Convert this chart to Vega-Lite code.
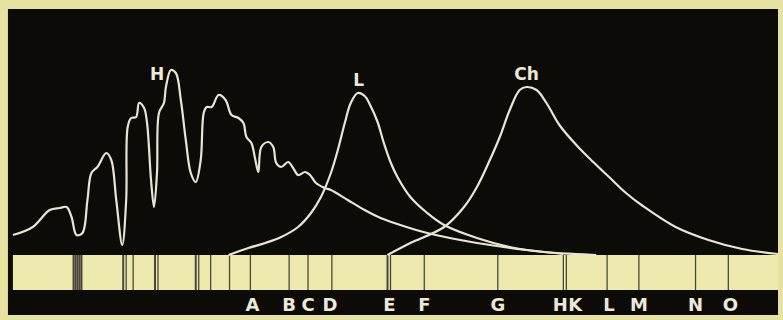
{
  "$schema": "https://vega.github.io/schema/vega-lite/v6.json",
  "width": 783,
  "height": 320,
  "autosize": {"type": "fit", "contains": "padding"},
  "padding": 0,
  "background": "#e6e2a2",
  "config": {"view": {"stroke": null}},
  "datasets": {
    "parts": [
      {"part": "panel", "x0": 8, "x1": 783, "y0": 5, "y1": 311},
      {"part": "strip", "x0": 13, "x1": 783, "y0": 30, "y1": 65}
    ],
    "lines": [
      {"x": 74, "kind": "band"}, {"x": 76, "kind": "band"}, {"x": 78, "kind": "band"}, {"x": 80, "kind": "band"}, {"x": 82, "kind": "band"},
      {"x": 124, "kind": "band"}, {"x": 127, "kind": "line"}, {"x": 134, "kind": "line"},
      {"x": 156, "kind": "band"}, {"x": 159, "kind": "line"},
      {"x": 197, "kind": "band"}, {"x": 200, "kind": "line"}, {"x": 212, "kind": "line"},
      {"x": 231, "kind": "line"}, {"x": 252, "kind": "line"}, {"x": 291, "kind": "line"},
      {"x": 310, "kind": "line"}, {"x": 334, "kind": "line"}, {"x": 390, "kind": "band"},
      {"x": 393, "kind": "line"}, {"x": 427, "kind": "line"}, {"x": 501, "kind": "line"},
      {"x": 567, "kind": "line"}, {"x": 570, "kind": "line"}, {"x": 611, "kind": "line"},
      {"x": 643, "kind": "line"}, {"x": 700, "kind": "line"}, {"x": 733, "kind": "line"}
    ],
    "letters": [
      {"label": "A", "x": 254}, {"label": "B", "x": 291}, {"label": "C", "x": 310},
      {"label": "D", "x": 332}, {"label": "E", "x": 392}, {"label": "F", "x": 427},
      {"label": "G", "x": 501}, {"label": "H", "x": 564}, {"label": "K", "x": 579},
      {"label": "L", "x": 613}, {"label": "M", "x": 643}, {"label": "N", "x": 700},
      {"label": "O", "x": 735}
    ],
    "curveLabels": [
      {"label": "H", "x": 158, "y": 245},
      {"label": "L", "x": 361, "y": 239},
      {"label": "Ch", "x": 530, "y": 245}
    ],
    "curves": [
      {"curve": "H", "x": 13, "y": 85}, {"curve": "H", "x": 33, "y": 93}, {"curve": "H", "x": 50, "y": 110},
      {"curve": "H", "x": 60, "y": 112}, {"curve": "H", "x": 67, "y": 113}, {"curve": "H", "x": 72, "y": 103},
      {"curve": "H", "x": 77, "y": 85}, {"curve": "H", "x": 83, "y": 87}, {"curve": "H", "x": 88, "y": 120},
      {"curve": "H", "x": 92, "y": 147}, {"curve": "H", "x": 98, "y": 153}, {"curve": "H", "x": 107, "y": 167},
      {"curve": "H", "x": 112, "y": 160}, {"curve": "H", "x": 117, "y": 120}, {"curve": "H", "x": 123, "y": 75},
      {"curve": "H", "x": 127, "y": 120}, {"curve": "H", "x": 128.5, "y": 193}, {"curve": "H", "x": 132, "y": 202},
      {"curve": "H", "x": 137, "y": 203}, {"curve": "H", "x": 140, "y": 217}, {"curve": "H", "x": 145, "y": 212},
      {"curve": "H", "x": 148, "y": 197}, {"curve": "H", "x": 152, "y": 140}, {"curve": "H", "x": 155, "y": 113},
      {"curve": "H", "x": 158, "y": 147}, {"curve": "H", "x": 160, "y": 207}, {"curve": "H", "x": 165, "y": 217},
      {"curve": "H", "x": 167, "y": 233}, {"curve": "H", "x": 172, "y": 250}, {"curve": "H", "x": 177, "y": 247},
      {"curve": "H", "x": 182, "y": 220}, {"curve": "H", "x": 187, "y": 180}, {"curve": "H", "x": 192, "y": 147},
      {"curve": "H", "x": 197, "y": 138}, {"curve": "H", "x": 202, "y": 160}, {"curve": "H", "x": 205, "y": 207},
      {"curve": "H", "x": 208, "y": 213}, {"curve": "H", "x": 213, "y": 213}, {"curve": "H", "x": 220, "y": 225},
      {"curve": "H", "x": 227, "y": 220}, {"curve": "H", "x": 233, "y": 205}, {"curve": "H", "x": 240, "y": 202},
      {"curve": "H", "x": 245, "y": 197}, {"curve": "H", "x": 248, "y": 183}, {"curve": "H", "x": 253, "y": 177},
      {"curve": "H", "x": 257, "y": 160}, {"curve": "H", "x": 260, "y": 148}, {"curve": "H", "x": 263, "y": 173},
      {"curve": "H", "x": 270, "y": 178}, {"curve": "H", "x": 275, "y": 173}, {"curve": "H", "x": 278, "y": 157},
      {"curve": "H", "x": 283, "y": 153}, {"curve": "H", "x": 290, "y": 158}, {"curve": "H", "x": 295, "y": 152},
      {"curve": "H", "x": 300, "y": 145}, {"curve": "H", "x": 307, "y": 148}, {"curve": "H", "x": 312, "y": 145},
      {"curve": "H", "x": 318, "y": 137}, {"curve": "H", "x": 327, "y": 132}, {"curve": "H", "x": 333, "y": 130},
      {"curve": "H", "x": 350, "y": 120}, {"curve": "H", "x": 367, "y": 110}, {"curve": "H", "x": 383, "y": 102},
      {"curve": "H", "x": 400, "y": 96}, {"curve": "H", "x": 430, "y": 87}, {"curve": "H", "x": 480, "y": 77},
      {"curve": "H", "x": 530, "y": 70}, {"curve": "H", "x": 567, "y": 66},
      {"curve": "L", "x": 230, "y": 65}, {"curve": "L", "x": 250, "y": 72}, {"curve": "L", "x": 267, "y": 77},
      {"curve": "L", "x": 283, "y": 83}, {"curve": "L", "x": 300, "y": 93}, {"curve": "L", "x": 313, "y": 107},
      {"curve": "L", "x": 323, "y": 123}, {"curve": "L", "x": 333, "y": 147}, {"curve": "L", "x": 340, "y": 170},
      {"curve": "L", "x": 347, "y": 197}, {"curve": "L", "x": 353, "y": 217}, {"curve": "L", "x": 360, "y": 227},
      {"curve": "L", "x": 367, "y": 224}, {"curve": "L", "x": 373, "y": 214}, {"curve": "L", "x": 380, "y": 198},
      {"curve": "L", "x": 386, "y": 178}, {"curve": "L", "x": 393, "y": 158}, {"curve": "L", "x": 400, "y": 143},
      {"curve": "L", "x": 413, "y": 123}, {"curve": "L", "x": 430, "y": 107}, {"curve": "L", "x": 447, "y": 95},
      {"curve": "L", "x": 480, "y": 82}, {"curve": "L", "x": 513, "y": 73}, {"curve": "L", "x": 547, "y": 68},
      {"curve": "L", "x": 580, "y": 66}, {"curve": "L", "x": 600, "y": 65},
      {"curve": "Ch", "x": 390, "y": 65}, {"curve": "Ch", "x": 413, "y": 77}, {"curve": "Ch", "x": 447, "y": 93},
      {"curve": "Ch", "x": 467, "y": 113}, {"curve": "Ch", "x": 480, "y": 133}, {"curve": "Ch", "x": 493, "y": 160},
      {"curve": "Ch", "x": 503, "y": 183}, {"curve": "Ch", "x": 513, "y": 210}, {"curve": "Ch", "x": 523, "y": 230},
      {"curve": "Ch", "x": 530, "y": 233}, {"curve": "Ch", "x": 540, "y": 230}, {"curve": "Ch", "x": 550, "y": 217},
      {"curve": "Ch", "x": 563, "y": 195}, {"curve": "Ch", "x": 580, "y": 175}, {"curve": "Ch", "x": 597, "y": 158},
      {"curve": "Ch", "x": 613, "y": 143}, {"curve": "Ch", "x": 630, "y": 127}, {"curve": "Ch", "x": 647, "y": 114},
      {"curve": "Ch", "x": 680, "y": 93},
      {"curve": "Ch", "x": 713, "y": 80}, {"curve": "Ch", "x": 747, "y": 71}, {"curve": "Ch", "x": 783, "y": 66}
    ]
  },
  "layer": [
    {
      "data": {"name": "parts"},
      "mark": {"type": "rect"},
      "encoding": {
        "x": {"field": "x0", "type": "quantitative", "scale": {"domain": [0, 783], "nice": false, "zero": false}, "axis": null},
        "x2": {"field": "x1"},
        "y": {"field": "y0", "type": "quantitative", "scale": {"domain": [0, 320], "nice": false, "zero": false}, "axis": null},
        "y2": {"field": "y1"},
        "color": {"field": "part", "type": "nominal", "scale": {"domain": ["panel", "strip"], "range": ["#0c0b07", "#eeeaae"]}, "legend": null}
      }
    },
    {
      "data": {"name": "lines"},
      "mark": {"type": "rule", "color": "#4a473f"},
      "encoding": {
        "x": {"field": "x", "type": "quantitative"},
        "y": {"datum": 30},
        "y2": {"datum": 65},
        "strokeWidth": {"field": "kind", "type": "nominal", "scale": {"domain": ["band", "line"], "range": [2, 1.3]}, "legend": null}
      }
    },
    {
      "data": {"name": "curves"},
      "mark": {"type": "line", "interpolate": "catmull-rom", "color": "#e8e5d4", "strokeWidth": 2.2},
      "encoding": {
        "x": {"field": "x", "type": "quantitative"},
        "y": {"field": "y", "type": "quantitative"},
        "detail": {"field": "curve", "type": "nominal"}
      }
    },
    {
      "data": {"name": "letters"},
      "mark": {"type": "text", "font": "DejaVu Sans", "fontWeight": "bold", "fontSize": 18, "color": "#ece9d8", "baseline": "middle"},
      "encoding": {
        "x": {"field": "x", "type": "quantitative"},
        "y": {"datum": 14},
        "text": {"field": "label"}
      }
    },
    {
      "data": {"name": "curveLabels"},
      "mark": {"type": "text", "font": "DejaVu Sans", "fontWeight": "bold", "fontSize": 17, "color": "#ece9d8", "baseline": "middle"},
      "encoding": {
        "x": {"field": "x", "type": "quantitative"},
        "y": {"field": "y", "type": "quantitative"},
        "text": {"field": "label"}
      }
    }
  ]
}
